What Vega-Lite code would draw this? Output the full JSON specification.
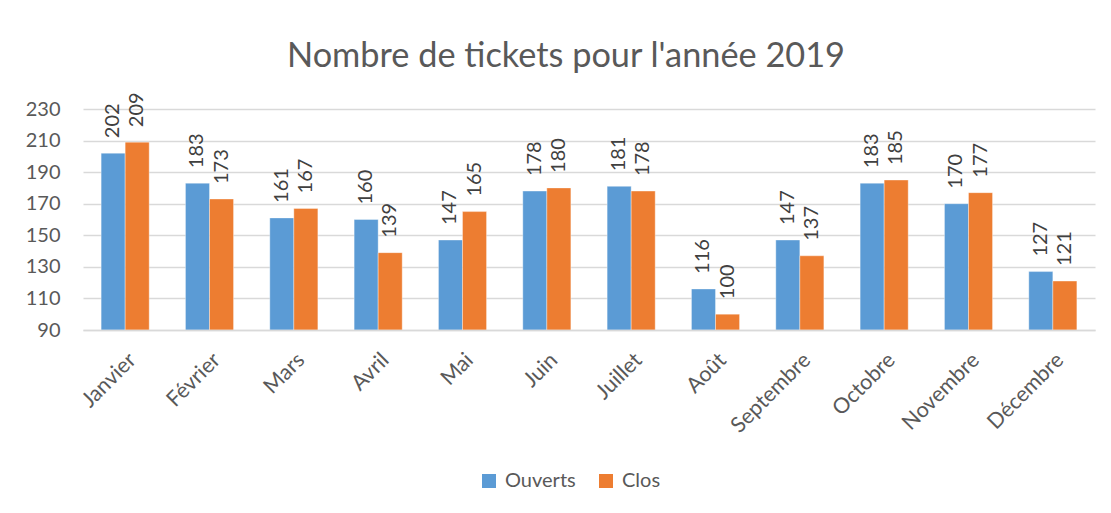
{
  "$schema": "https://vega.github.io/schema/vega-lite/v6.json",
  "width": 1012,
  "height": 221,
  "autosize": "none",
  "padding": {"left": 83, "top": 109, "right": 16, "bottom": 183},
  "background": "white",
  "title": {
    "text": "Nombre de tickets pour l'année 2019",
    "font": "Lato",
    "fontSize": 34.3,
    "fontWeight": "normal",
    "color": "#595959",
    "anchor": "middle",
    "dx": -23,
    "offset": 18
  },
  "config": {
    "view": {"stroke": null},
    "font": "Lato"
  },
  "data": {
    "values": [
      {"mois": "Janvier", "serie": "Ouverts", "valeur": 202},
      {"mois": "Janvier", "serie": "Clos", "valeur": 209},
      {"mois": "Février", "serie": "Ouverts", "valeur": 183},
      {"mois": "Février", "serie": "Clos", "valeur": 173},
      {"mois": "Mars", "serie": "Ouverts", "valeur": 161},
      {"mois": "Mars", "serie": "Clos", "valeur": 167},
      {"mois": "Avril", "serie": "Ouverts", "valeur": 160},
      {"mois": "Avril", "serie": "Clos", "valeur": 139},
      {"mois": "Mai", "serie": "Ouverts", "valeur": 147},
      {"mois": "Mai", "serie": "Clos", "valeur": 165},
      {"mois": "Juin", "serie": "Ouverts", "valeur": 178},
      {"mois": "Juin", "serie": "Clos", "valeur": 180},
      {"mois": "Juillet", "serie": "Ouverts", "valeur": 181},
      {"mois": "Juillet", "serie": "Clos", "valeur": 178},
      {"mois": "Août", "serie": "Ouverts", "valeur": 116},
      {"mois": "Août", "serie": "Clos", "valeur": 100},
      {"mois": "Septembre", "serie": "Ouverts", "valeur": 147},
      {"mois": "Septembre", "serie": "Clos", "valeur": 137},
      {"mois": "Octobre", "serie": "Ouverts", "valeur": 183},
      {"mois": "Octobre", "serie": "Clos", "valeur": 185},
      {"mois": "Novembre", "serie": "Ouverts", "valeur": 170},
      {"mois": "Novembre", "serie": "Clos", "valeur": 177},
      {"mois": "Décembre", "serie": "Ouverts", "valeur": 127},
      {"mois": "Décembre", "serie": "Clos", "valeur": 121}
    ]
  },
  "encoding": {
    "x": {
      "field": "mois",
      "type": "nominal",
      "sort": null,
      "scale": {"paddingInner": 0.43, "paddingOuter": 0.215},
      "axis": {
        "title": null,
        "labelAngle": -45,
        "labelFont": "Lato",
        "labelFontSize": 21.5,
        "labelColor": "#595959",
        "labelPadding": 19,
        "ticks": false,
        "domainColor": "#D9D9D9",
        "domainWidth": 1.5,
        "grid": false,
        "zindex": 1
      }
    },
    "xOffset": {
      "field": "serie",
      "type": "nominal",
      "sort": ["Ouverts", "Clos"],
      "scale": {"paddingInner": 0, "paddingOuter": 0}
    },
    "y": {
      "field": "valeur",
      "type": "quantitative",
      "scale": {"domain": [90, 230], "zero": false, "nice": false},
      "axis": {
        "title": null,
        "values": [90, 110, 130, 150, 170, 190, 210, 230],
        "labelFont": "Lato",
        "labelFontSize": 20,
        "labelColor": "#595959",
        "labelPadding": 23,
        "ticks": false,
        "domain": false,
        "grid": true,
        "gridColor": "#D9D9D9",
        "gridWidth": 1.3
      }
    }
  },
  "layer": [
    {
      "mark": {"type": "bar", "clip": true, "stroke": "white", "strokeWidth": 0.6, "strokeOpacity": 0.6},
      "encoding": {
        "y2": {"datum": 90},
        "color": {
          "field": "serie",
          "type": "nominal",
          "scale": {"domain": ["Ouverts", "Clos"], "range": ["#5B9BD5", "#ED7D31"]},
          "legend": {
            "title": null,
            "orient": "none",
            "legendX": 396,
            "legendY": 362,
            "direction": "horizontal",
            "symbolType": "square",
            "symbolSize": 196,
            "symbolStrokeWidth": 0,
            "labelFont": "Lato",
            "labelFontSize": 20,
            "labelColor": "#595959",
            "labelOffset": 6,
            "columnPadding": 20,
            "padding": 0
          }
        }
      }
    },
    {
      "mark": {
        "type": "text",
        "angle": 270,
        "align": "left",
        "baseline": "middle",
        "dx": 15,
        "font": "Lato",
        "fontSize": 20,
        "color": "#404040"
      },
      "encoding": {
        "text": {"field": "valeur", "type": "quantitative"}
      }
    }
  ]
}
